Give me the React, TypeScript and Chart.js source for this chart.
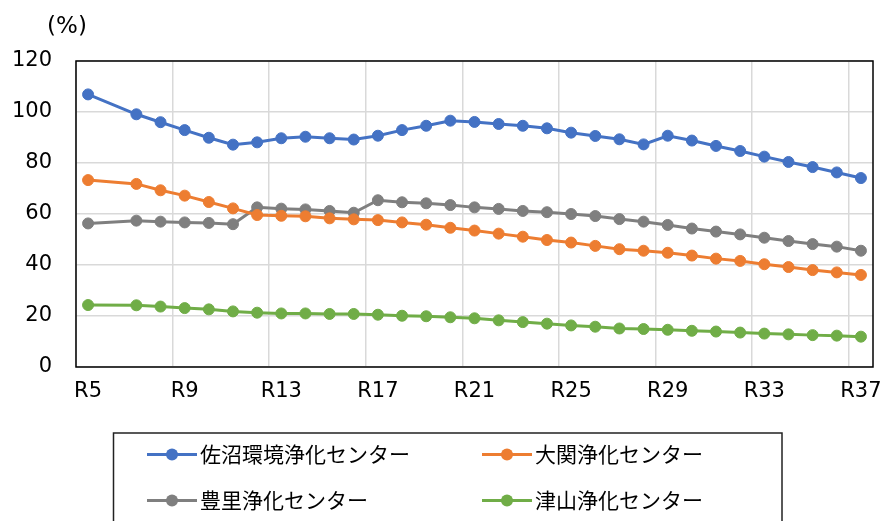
import React, { useEffect, useRef } from "react";
import { Chart, registerables } from "chart.js";

Chart.register(...registerables);

const categories = [
  "R5", "R6", "R7", "R8", "R9", "R10", "R11", "R12", "R13", "R14", "R15",
  "R16", "R17", "R18", "R19", "R20", "R21", "R22", "R23", "R24", "R25", "R26",
  "R27", "R28", "R29", "R30", "R31", "R32", "R33", "R34", "R35", "R36", "R37",
];

const sanumaValues = [
  106.9, null, 99.1, 96.0, 92.9, 89.9, 87.2, 88.1, 89.7, 90.3, 89.7,
  89.2, 90.7, 92.9, 94.6, 96.6, 96.1, 95.3, 94.6, 93.6, 91.9, 90.6,
  89.3, 87.3, 90.7, 88.8, 86.7, 84.7, 82.5, 80.4, 78.4, 76.3, 74.1,
];
const ozekiValues = [
  73.3, null, 71.8, 69.3, 67.2, 64.7, 62.2, 59.6, 59.3, 59.1, 58.3,
  57.9, 57.6, 56.7, 55.8, 54.6, 53.5, 52.3, 51.1, 49.8, 48.8, 47.5,
  46.2, 45.6, 44.8, 43.7, 42.5, 41.6, 40.3, 39.2, 38.0, 37.1, 36.1,
];
const toyosatoValues = [
  56.3, null, 57.4, 57.0, 56.7, 56.5, 56.0, 62.6, 62.1, 61.8, 61.2,
  60.5, 65.4, 64.6, 64.2, 63.5, 62.6, 62.0, 61.2, 60.7, 60.0, 59.2,
  58.0, 57.0, 55.7, 54.3, 53.1, 52.0, 50.7, 49.4, 48.2, 47.2, 45.6,
];
const tsuyamaValues = [
  24.3, null, 24.2, 23.7, 23.1, 22.6, 21.8, 21.3, 21.0, 21.0, 20.8,
  20.8, 20.5, 20.1, 19.9, 19.5, 19.1, 18.3, 17.6, 17.0, 16.3, 15.8,
  15.1, 14.9, 14.6, 14.2, 13.9, 13.5, 13.1, 12.8, 12.5, 12.3, 11.9,
];

const seriesNames = ["佐沼環境浄化センター", "大関浄化センター", "豊里浄化センター", "津山浄化センター"];
const seriesColors = ["#4472C4", "#ED7D31", "#7F7F7F", "#70AD47"];
const yTicks = { min: 0, max: 120, step: 20 };
const unitLabel = "(%)";

const LATIN_FONT = "'DejaVu Sans', Verdana, sans-serif";
const CJK_FONT = "'Noto Sans CJK JP', 'DejaVu Sans', sans-serif";

const framePlugin = {
  id: "frameAndLegend",
  afterDraw(chart: any) {
    const ctx = chart.ctx;
    const a = chart.chartArea;
    ctx.save();
    // plot border
    ctx.strokeStyle = "#000";
    ctx.lineWidth = 1.5;
    ctx.strokeRect(a.left, a.top, a.right - a.left, a.bottom - a.top);
    // unit label
    ctx.fillStyle = "#000";
    ctx.font = "23px " + LATIN_FONT;
    ctx.textAlign = "center";
    ctx.textBaseline = "middle";
    ctx.fillText(unitLabel, a.left - 9, a.top - 34);
    // legend box
    ctx.lineWidth = 1.5;
    ctx.strokeStyle = "#222";
    ctx.strokeRect(113.5, 433, 668.5, 120);
    const ds = chart.data.datasets;
    ds.forEach((d: any, i: number) => {
      const col = i % 2;
      const row = Math.floor(i / 2);
      const x0 = 147 + col * 335;
      const y = 454.5 + row * 46;
      ctx.strokeStyle = d.borderColor;
      ctx.lineWidth = 3;
      ctx.beginPath();
      ctx.moveTo(x0, y);
      ctx.lineTo(x0 + 50, y);
      ctx.stroke();
      ctx.fillStyle = d.borderColor;
      ctx.beginPath();
      ctx.arc(x0 + 25, y, 6, 0, Math.PI * 2);
      ctx.fill();
      ctx.fillStyle = "#000";
      ctx.font = "21px " + CJK_FONT;
      ctx.textAlign = "left";
      ctx.textBaseline = "middle";
      ctx.fillText(d.label, x0 + 53, y);
    });
    ctx.restore();
  },
};

export default function App() {
  const ref = useRef<HTMLCanvasElement>(null);
  useEffect(() => {
    if (!ref.current) return;
    const values = [sanumaValues, ozekiValues, toyosatoValues, tsuyamaValues];
    const chart = new Chart(ref.current, {
      type: "line",
      data: {
        labels: categories,
        datasets: values.map((v, i) => ({
          label: seriesNames[i],
          data: v,
          borderColor: seriesColors[i],
          backgroundColor: seriesColors[i],
          pointBackgroundColor: seriesColors[i],
          pointBorderColor: seriesColors[i],
          borderWidth: 3,
          pointRadius: 5.5,
          pointBorderWidth: 1,
          spanGaps: true,
          tension: 0,
        })),
      },
      options: {
        responsive: false,
        animation: false,
        layout: { padding: { left: 0, right: 9, top: 61, bottom: 0 } },
        plugins: { legend: { display: false }, tooltip: { enabled: false }, title: { display: false } },
        scales: {
          x: {
            type: "category",
            offset: true,
            afterFit: (s: any) => {
              s.height = 154;
              s.paddingLeft = 0;
              s.paddingRight = 0;
            },
            border: { display: false },
            grid: {
              offset: true,
              drawTicks: false,
              lineWidth: 1.5,
              color: (c: any) => (c.index % 4 === 0 ? "#D9D9D9" : "rgba(0,0,0,0)"),
            },
            ticks: {
              autoSkip: false,
              maxRotation: 0,
              padding: 12,
              color: "#000",
              font: { family: LATIN_FONT, size: 21 },
              callback: (_v: any, idx: number) => (idx % 4 === 0 ? categories[idx] : ""),
            },
          },
          y: {
            min: yTicks.min,
            max: yTicks.max,
            afterFit: (s: any) => { s.width = 76; },
            border: { display: false },
            grid: { drawTicks: false, lineWidth: 1.5, color: "#D9D9D9" },
            ticks: {
              stepSize: yTicks.step,
              padding: 24,
              color: "#000",
              font: { family: LATIN_FONT, size: 21 },
            },
          },
        },
      },
      plugins: [framePlugin],
    });
    return () => chart.destroy();
  }, []);
  return (
    <div style={{ position: "fixed", left: 0, top: 0, width: 882, height: 521, background: "#fff" }}>
      <canvas ref={ref} width={882} height={521} />
    </div>
  );
}
